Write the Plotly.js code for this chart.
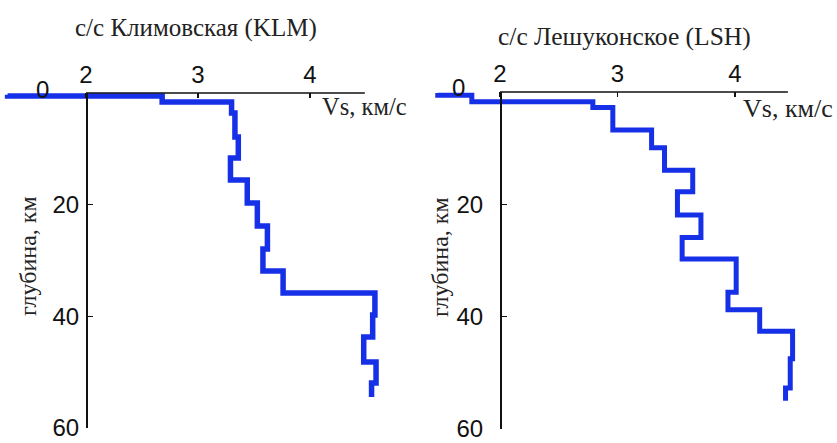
<!DOCTYPE html>
<html>
<head>
<meta charset="utf-8">
<script src="https://cdn.plot.ly/plotly-3.0.1.min.js"></script>
<style>html,body{margin:0;padding:0;background:#fff;}#chart{width:837px;height:443px;}</style>
</head>
<body>
<div id="chart"></div>
<script>
// KLM (Климовская): layer shear velocity (km/s), layer bottom depths (km)
const klmVs     = [1.30, 2.68, 3.30, 3.33, 3.36, 3.29, 3.44, 3.53, 3.62, 3.58, 3.76, 4.58, 4.56, 4.48, 4.59, 4.55];
const klmBottom = [0.54, 1.61, 3.58, 7.88, 11.64, 15.58, 19.70, 23.82, 27.94, 31.88, 35.82, 39.76, 43.70, 48.18, 51.94, 54.45];
const klmTop0   = 0.3;
// LSH (Лешуконское)
const lshVs     = [1.47, 1.76, 2.79, 2.96, 3.29, 3.40, 3.64, 3.51, 3.71, 3.55, 4.01, 3.94, 4.21, 4.49, 4.47, 4.43];
const lshBottom = [0.6, 1.74, 2.78, 6.78, 9.91, 13.91, 17.74, 21.91, 25.91, 29.74, 35.65, 38.78, 42.61, 47.48, 52.70, 54.96];
const lshTop0   = 0.2;

const xTicks = [2, 3, 4];
const yTicks = [0, 20, 40, 60];
const yTickText = ['', '20', '40', '60'];
const zeroLabel = '0';
const titleKLM = 'с/с Климовская (KLM)';
const titleLSH = 'с/с Лешуконское (LSH)';
const xTitle = 'Vs, км/с';
const yTitle = 'глубина, км';

function profile(vs, bottom, top0) {
  return { x: [vs[0]].concat(vs), y: [top0].concat(bottom) };
}
const pK = profile(klmVs, klmBottom, klmTop0);
const pL = profile(lshVs, lshBottom, lshTop0);
const blue = '#1630e8';
const W = 837, H = 443;
const px = v => v / W, py = v => 1 - v / H;

const traces = [
  {x: pK.x, y: pK.y, xaxis: 'x', yaxis: 'y', mode: 'lines', line: {shape: 'hv', color: blue, width: 5.5}, hoverinfo: 'skip'},
  {x: pL.x, y: pL.y, xaxis: 'x2', yaxis: 'y2', mode: 'lines', line: {shape: 'hv', color: blue, width: 5}, hoverinfo: 'skip'}
];

const tickFont = {family: 'Liberation Sans, Arial, sans-serif', size: 24, color: '#111'};
const serif = s => ({family: 'Liberation Serif, Times New Roman, serif', size: s, color: '#222'});

function xax(domain, range, anchor) {
  return {domain, range, anchor, side: 'top', tickvals: xTicks, ticktext: xTicks.map(String),
    ticks: 'inside', ticklen: 5, tickwidth: 1.3, tickcolor: '#111', showline: false, showgrid: false,
    zeroline: false, tickfont: tickFont, ticklabelstandoff: 4, ticklabeloverflow: 'allow', fixedrange: true};
}
function yax(domain, position, standoff) {
  return {domain, range: [60, 0], anchor: 'free', position, tickvals: yTicks, ticktext: yTickText,
    ticks: 'inside', ticklen: 5, tickwidth: 1.3, tickcolor: '#111', showline: true, linecolor: '#111', linewidth: 1.5,
    showgrid: false, zeroline: false, tickfont: tickFont, ticklabelstandoff: standoff, ticklabeloverflow: 'allow', fixedrange: true};
}

const layout = {
  width: W, height: H, margin: {l: 0, r: 0, t: 0, b: 0},
  paper_bgcolor: '#fff', plot_bgcolor: 'rgba(0,0,0,0)', showlegend: false,
  xaxis: xax([0, px(400)], [1.232, 4.804], 'y'),
  yaxis: yax([py(428), py(93)], px(86), 2),
  xaxis2: xax([px(430), 1], [1.404, 4.868], 'y2'),
  yaxis2: yax([py(429), py(92)], px(500), 12),
  shapes: [
    {type: 'line', xref: 'x', yref: 'paper', x0: 2, x1: 4.49, y0: py(93), y1: py(93), line: {color: '#111', width: 1.5}},
    {type: 'line', xref: 'x2', yref: 'paper', x0: 2, x1: 4.45, y0: py(92), y1: py(92), line: {color: '#111', width: 1.5}}
  ],
  annotations: [
    {text: titleKLM, xref: 'paper', yref: 'paper', x: px(196), y: py(28), xanchor: 'center', yanchor: 'middle', showarrow: false, font: serif(25)},
    {text: titleLSH, xref: 'paper', yref: 'paper', x: px(624), y: py(37), xanchor: 'center', yanchor: 'middle', showarrow: false, font: serif(25.5)},
    {text: xTitle, xref: 'paper', yref: 'paper', x: px(320), y: py(107), xanchor: 'left', yanchor: 'middle', showarrow: false, font: serif(24.5)},
    {text: xTitle, xref: 'paper', yref: 'paper', x: px(741), y: py(108), xanchor: 'left', yanchor: 'middle', showarrow: false, font: serif(26)},
    {text: yTitle, xref: 'paper', yref: 'paper', x: px(28), y: py(256), xanchor: 'center', yanchor: 'middle', textangle: -90, showarrow: false, font: serif(24)},
    {text: yTitle, xref: 'paper', yref: 'paper', x: px(440), y: py(257), xanchor: 'center', yanchor: 'middle', textangle: -90, showarrow: false, font: serif(24)},
    {text: zeroLabel, xref: 'paper', yref: 'paper', x: px(42), y: py(90), xanchor: 'center', yanchor: 'middle', showarrow: false, font: tickFont},
    {text: zeroLabel, xref: 'paper', yref: 'paper', x: px(458), y: py(88), xanchor: 'center', yanchor: 'middle', showarrow: false, font: tickFont}
  ]
};
Plotly.newPlot('chart', traces, layout, {displayModeBar: false, staticPlot: true});
</script>
</body>
</html>
